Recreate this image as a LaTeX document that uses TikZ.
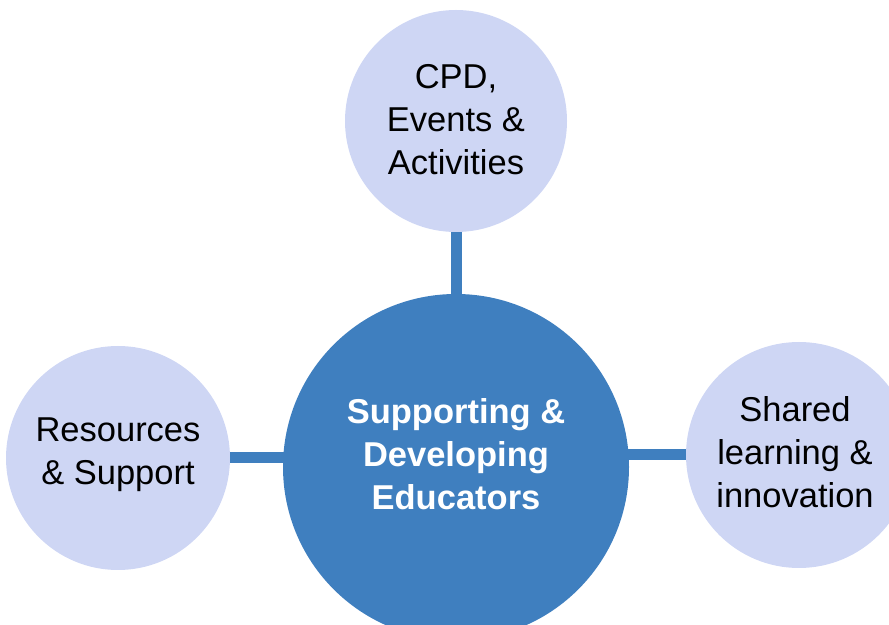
\documentclass[tikz,border=0pt]{standalone}
\usepackage{fontspec}
\setmainfont{Liberation Sans}
\usetikzlibrary{backgrounds}
\definecolor{hubblue}{RGB}{63,127,191}
\definecolor{spokefill}{RGB}{206,214,244}
\tikzset{
    hub/.style={circle,fill=hubblue,minimum size=346pt,inner sep=0pt},
    spoke/.style={circle,fill=spokefill,minimum size=224pt,inner sep=0pt},
    label text/.style={align=center,font=\fontsize{34.5}{43}\selectfont},
    link/.style={draw=hubblue,line width=11pt}
}
\begin{document}
\begin{tikzpicture}[x=1pt,y=1pt]
		\useasboundingbox (0,0) rectangle (889,624);

		\node[hub] (edu) at (456,157) {};
		\node[spoke,minimum size=222pt] (cpd) at (456,503) {};
		\node[spoke] (res) at (118,166) {};
		\node[spoke,minimum size=226pt] (shared) at (799,169) {};

		\node[label text,text=white,font=\fontsize{34.5}{43}\selectfont\bfseries]
			(edutext) at ([yshift=13pt]edu.center) {Supporting \&\\Developing\\Educators};
		\node[label text] (cpdtext) at ([yshift=1pt]cpd.center) {CPD,\\Events \&\\Activities};
		\node[label text] (restext) at ([yshift=3pt]res.center) {Resources\\\& Support};
		\node[label text] (sharedtext) at ([xshift=-4pt,yshift=3pt]shared.center) {Shared\\learning \&\\innovation};

		% spokes behind the circles
		\begin{scope}[on background layer]
		\draw[link] (cpd) -- (cpd |- edu);
		\draw[link] (res) -- (res -| edu);
		\draw[link] (shared) -- (shared -| edu);
		\end{scope}
\end{tikzpicture}
\end{document}
